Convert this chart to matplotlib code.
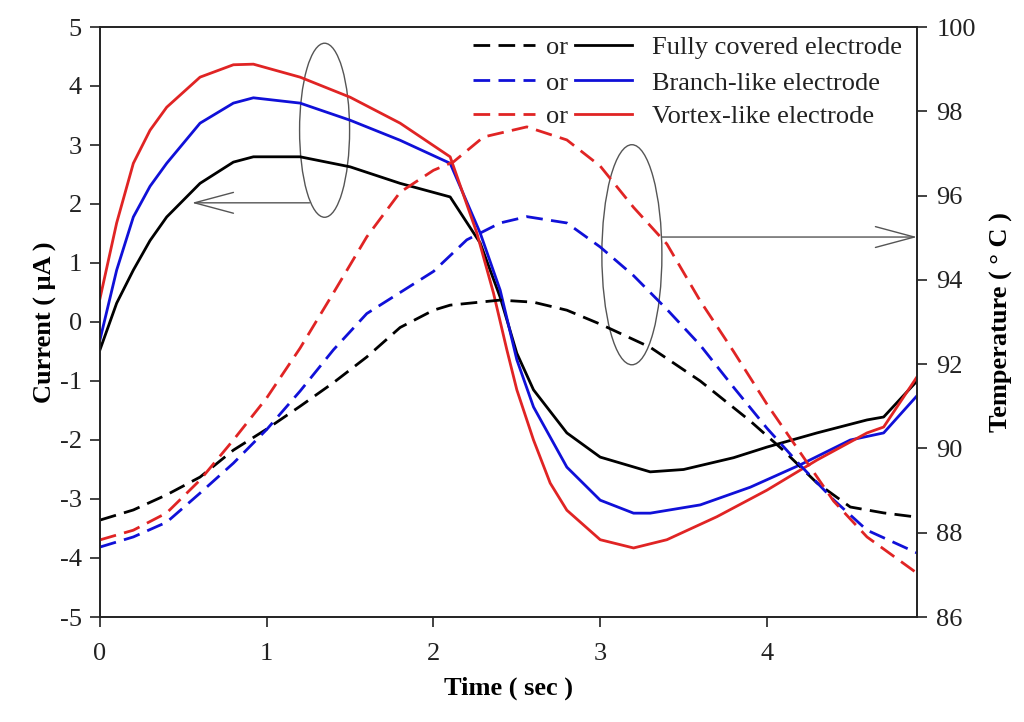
import matplotlib
matplotlib.use("Agg")
import matplotlib.pyplot as plt
from matplotlib.patches import Ellipse
from matplotlib.lines import Line2D

plt.rcParams['font.family'] = ['Liberation Serif', 'DejaVu Serif']
plt.rcParams['axes.unicode_minus'] = False

# ---------------- data ----------------
# Current (solid lines), microA
t_full_i = [0, 0.1, 0.2, 0.3, 0.4, 0.6, 0.8, 0.92, 1.2, 1.5, 1.8, 2.1, 2.28, 2.4, 2.5, 2.6,
            2.8, 3.0, 3.3, 3.5, 3.8, 4.0, 4.3, 4.6, 4.7, 4.9]
i_full = [-0.47, 0.32, 0.88, 1.38, 1.78, 2.35, 2.71, 2.8, 2.8, 2.63, 2.35, 2.12, 1.34, 0.42, -0.53, -1.15,
          -1.88, -2.29, -2.54, -2.5, -2.3, -2.12, -1.88, -1.66, -1.61, -1.0]

t_branch_i = [0, 0.1, 0.2, 0.3, 0.4, 0.6, 0.8, 0.92, 1.2, 1.5, 1.8, 2.1, 2.28, 2.4, 2.5, 2.6,
              2.8, 3.0, 3.2, 3.3, 3.6, 3.9, 4.2, 4.5, 4.7, 4.9]
i_branch = [-0.3, 0.88, 1.78, 2.3, 2.69, 3.37, 3.71, 3.8, 3.71, 3.42, 3.08, 2.69, 1.51, 0.54, -0.64, -1.44,
            -2.46, -3.02, -3.24, -3.24, -3.1, -2.8, -2.42, -2.0, -1.88, -1.25]

t_vortex_i = [0, 0.1, 0.2, 0.3, 0.4, 0.6, 0.8, 0.92, 1.2, 1.5, 1.8, 2.1, 2.26, 2.36, 2.44, 2.5,
              2.6, 2.7, 2.8, 3.0, 3.2, 3.4, 3.7, 4.0, 4.3, 4.6, 4.7, 4.9]
i_vortex = [0.4, 1.68, 2.69, 3.25, 3.64, 4.15, 4.36, 4.37, 4.15, 3.81, 3.37, 2.8, 1.51, 0.49, -0.47, -1.15,
            -2.0, -2.73, -3.19, -3.69, -3.83, -3.69, -3.3, -2.85, -2.34, -1.88, -1.78, -0.93]

# Temperature (dashed lines), deg C
t_full_T = [0, 0.2, 0.4, 0.6, 0.8, 1.0, 1.2, 1.4, 1.6, 1.8, 2.0, 2.1, 2.4, 2.6, 2.8, 3.0,
            3.3, 3.6, 3.9, 4.1, 4.3, 4.5, 4.7, 4.9]
T_full = [88.3, 88.54, 88.9, 89.32, 89.96, 90.46, 91.0, 91.56, 92.17, 92.87, 93.28, 93.4, 93.52, 93.47, 93.28, 92.95,
          92.4, 91.6, 90.65, 89.95, 89.18, 88.61, 88.47, 88.37]

t_branch_T = [0, 0.2, 0.4, 0.6, 0.8, 1.0, 1.2, 1.4, 1.6, 1.8, 2.0, 2.2, 2.4, 2.56, 2.8, 3.0,
              3.2, 3.4, 3.6, 3.8, 4.0, 4.2, 4.4, 4.6, 4.9]
T_branch = [87.66, 87.9, 88.25, 88.94, 89.65, 90.45, 91.36, 92.34, 93.2, 93.7, 94.2, 94.95, 95.35, 95.5, 95.35, 94.78,
            94.1, 93.3, 92.45, 91.45, 90.48, 89.6, 88.78, 88.06, 87.52]

t_vortex_T = [0, 0.2, 0.4, 0.6, 0.8, 1.0, 1.2, 1.4, 1.6, 1.8, 2.0, 2.12, 2.3, 2.56, 2.8, 3.0,
              3.2, 3.4, 3.6, 3.8, 4.0, 4.2, 4.4, 4.6, 4.9]
T_vortex = [87.83, 88.06, 88.47, 89.25, 90.2, 91.2, 92.38, 93.69, 95.02, 96.08, 96.6, 96.8, 97.39, 97.63, 97.32, 96.7,
            95.72, 94.85, 93.5, 92.3, 91.05, 89.9, 88.75, 87.9, 87.04]

labels = ["Fully covered electrode", "Branch-like electrode", "Vortex-like electrode"]
colors = ["black", "#1010d8", "#e02424"]

# ---------------- figure ----------------
fig = plt.figure(figsize=(10.24, 7.22), dpi=100)
ax = fig.add_axes([100 / 1024, 1 - 617 / 722, 817 / 1024, 590 / 722])
ax2 = ax.twinx()

lw = 2.0
dash = (6, 3)
ax.plot(t_full_i, i_full, color=colors[0], lw=lw)
ax.plot(t_branch_i, i_branch, color=colors[1], lw=lw)
ax.plot(t_vortex_i, i_vortex, color=colors[2], lw=lw)
ax2.plot(t_full_T, T_full, color=colors[0], lw=lw, dashes=dash)
ax2.plot(t_branch_T, T_branch, color=colors[1], lw=lw, dashes=dash)
ax2.plot(t_vortex_T, T_vortex, color=colors[2], lw=lw, dashes=dash)

ax.set_xlim(0, 4.9)
ax.set_ylim(-5, 5)
ax2.set_ylim(86, 100)
ax.set_xticks([0, 1, 2, 3, 4])
ax.set_yticks(range(-5, 6))
ax2.set_yticks(range(86, 101, 2))

fs = 19
for a in (ax, ax2):
    for s in a.spines.values():
        s.set_linewidth(1.2)
        s.set_color('#222222')
    a.tick_params(direction='out', length=7, width=1.2, labelsize=fs, colors='#222222')
ax.tick_params(axis='x', pad=12)
ax.tick_params(axis='y', pad=6)
ax2.tick_params(axis='y', pad=7)

ax.set_xlabel("Time ( sec )", fontsize=fs, fontweight='bold', labelpad=8)
ax.set_ylabel("Current ( μA )", fontsize=fs, fontweight='bold', labelpad=2)
ax2.set_ylabel("Temperature ( ° C )", fontsize=fs, fontweight='bold', labelpad=10)

# annotations: ellipses and arrows
acol = '#555555'
ax.add_patch(Ellipse((1.347, 3.25), 0.30, 2.95, fill=False, edgecolor=acol, lw=1.0))
ax.add_patch(Ellipse((3.19, 1.14), 0.36, 3.73, fill=False, edgecolor=acol, lw=1.0))
ap = dict(arrowstyle='->,head_length=2.8,head_width=0.75', color=acol, lw=1.0,
          mutation_scale=10, shrinkA=0, shrinkB=0)
ax.annotate("", xy=(0.551, 2.02), xytext=(1.257, 2.02), arrowprops=ap)
ax.annotate("", xy=(4.9, 1.44), xytext=(3.37, 1.44), arrowprops=ap)

# custom legend
rows = [0.9695, 0.910, 0.8525]
for yr, c, lab in zip(rows, colors, labels):
    ax.add_line(Line2D([0.4565, 0.5324], [yr, yr], transform=ax.transAxes, color=c, lw=lw, dashes=dash))
    ax.add_line(Line2D([0.5814, 0.6512], [yr, yr], transform=ax.transAxes, color=c, lw=lw))
    ax.text(0.5594, yr - 0.016, "or", transform=ax.transAxes, fontsize=fs, ha='center', va='baseline', color='#222222')
    ax.text(0.6756, yr - 0.016, lab, transform=ax.transAxes, fontsize=fs, ha='left', va='baseline', color='#222222')

fig.savefig("out.png", dpi=100)
